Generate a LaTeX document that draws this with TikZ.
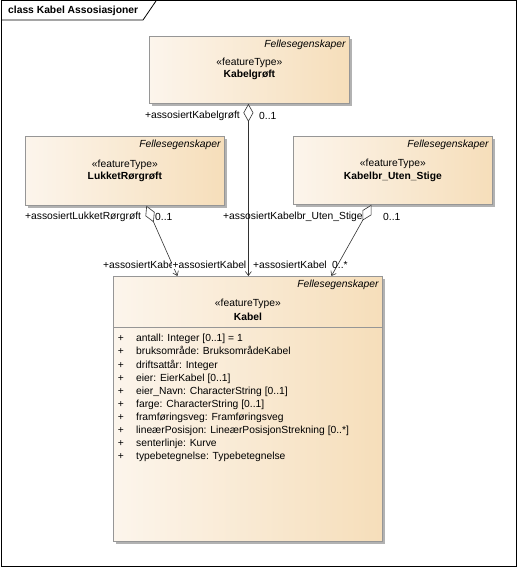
\documentclass[tikz,border=0pt]{standalone}
\usepackage{fontspec}
\setmainfont{Liberation Sans}
\usetikzlibrary{arrows.meta,shadows,calc}
\definecolor{boxL}{RGB}{252,245,236}
\definecolor{boxR}{RGB}{246,222,186}
\definecolor{boxBorder}{RGB}{150,150,150}
\definecolor{shadowGray}{RGB}{178,178,178}
\definecolor{lineCol}{RGB}{50,50,50}
\begin{document}
\begin{tikzpicture}[x=1pt,y=-1pt,
  font=\fontsize{10.3pt}{12pt}\selectfont,
  classbox/.style={draw=boxBorder, line width=0.8pt, left color=boxL, right color=boxR,
    anchor=north west, inner sep=0pt,
    drop shadow={shadow xshift=3pt, shadow yshift=-3pt, fill=shadowGray, opacity=1}},
  lbl/.style={inner sep=0pt, text=black},
  stereo/.style={lbl, anchor=center},
  cname/.style={lbl, anchor=center, font=\fontsize{10.3pt}{12pt}\selectfont\bfseries},
  felles/.style={lbl, anchor=east, font=\fontsize{10.3pt}{12pt}\selectfont\itshape},
  assoc/.style={draw=lineCol, line width=0.6pt,
    arrows={Diamond[fill=white,length=18pt,width=10pt]-Straight Barb[length=4pt,width=6pt]}}
]
\useasboundingbox (0,0) rectangle (518,567);
\fill[white] (0,0) rectangle (518,567);
% frame
\draw[line width=1pt] (1,1) rectangle (516.5,566);
\draw[line width=0.8pt] (1,20) -- (143,20) -- (156,1);
\node[lbl, anchor=west, font=\fontsize{10.3pt}{12pt}\selectfont\bfseries] (title) at (8,11) {class Kabel Assosiasjoner};

% boxes
\node[classbox, minimum width=200pt, minimum height=67pt] (kgrof) at (149,36) {};
\node[classbox, minimum width=199pt, minimum height=69pt] (lrg) at (25,136) {};
\node[classbox, minimum width=199pt, minimum height=68pt] (kbr) at (293,136) {};
\node[classbox, minimum width=269pt, minimum height=265pt] (kabel) at (113,276) {};

% Kabelgrøft
\node[felles] (kgF) at ($(kgrof.north east)+(-4,9)$) {Fellesegenskaper};
\node[stereo] (kgS) at ($(kgrof.north)+(0,27)$) {«featureType»};
\node[cname] (kgN) at ($(kgrof.north)+(0,39)$) {Kabelgrøft};

% LukketRørgrøft
\node[felles] (lrF) at ($(lrg.north east)+(-4,9)$) {Fellesegenskaper};
\node[stereo] (lrS) at ($(lrg.north)+(0,29)$) {«featureType»};
\node[cname] (lrN) at ($(lrg.north)+(0,41)$) {LukketRørgrøft};

% Kabelbr_Uten_Stige
\node[felles] (kbF) at ($(kbr.north east)+(-4,9)$) {Fellesegenskaper};
\node[stereo] (kbS) at ($(kbr.north)+(0,28)$) {«featureType»};
\node[cname] (kbN) at ($(kbr.north)+(0,41)$) {Kabelbr\_Uten\_Stige};

% Kabel
\node[felles] (kaF) at ($(kabel.north east)+(-4,9)$) {Fellesegenskaper};
\node[stereo] (kaS) at ($(kabel.north)+(0,28)$) {«featureType»};
\node[cname] (kaN) at ($(kabel.north)+(0,41)$) {Kabel};
\draw[draw=boxBorder, line width=0.8pt] ($(kabel.north west)+(0,51)$) coordinate (sepL) -- ($(kabel.north east)+(0,51)$) coordinate (sepR);

\foreach \t [count=\i] in {{antall: Integer [0..1] = 1},{bruksområde: BruksområdeKabel},{driftsattår: Integer},{eier: EierKabel [0..1]},{eier\_Navn: CharacterString [0..1]},{farge: CharacterString [0..1]},{framføringsveg: Framføringsveg},{lineærPosisjon: LineærPosisjonStrekning [0..*]},{senterlinje: Kurve},{typebetegnelse: Typebetegnelse}}{
  \node[lbl, anchor=base] (plus\i) at (121,{341.8+13.1*(\i-1)}) {+};
  \node[lbl, anchor=base west] (attr\i) at (136,{341.8+13.1*(\i-1)}) {\t};
}

% connector end points
\coordinate (a1s) at ($(kgrof.south)+(-1,0)$);
\coordinate (a1e) at ($(kabel.north)+(0.5,0)$);
\coordinate (a2s) at ($(lrg.south)+(21.5,0)$);
\coordinate (a2e) at ($(kabel.north)+(-70.5,0)$);
\coordinate (a3s) at ($(kbr.south)+(-21.5,0)$);
\coordinate (a3e) at ($(kabel.north)+(83.5,0)$);

\draw[assoc] (a1s) -- (a1e);
\draw[assoc] (a2s) -- (a2e);
\draw[assoc] (a3s) -- (a3e);

% connector labels
\node[lbl, anchor=east] (l1a) at (240,116) {+assosiertKabelgrøft};
\node[lbl, anchor=west] (l1b) at (259,116) {0..1};
\node[lbl, anchor=west] (l2a) at (25,217) {+assosiertLukketRørgrøft};
\node[lbl, anchor=west] (l2b) at (155,217) {0..1};
\node[lbl, anchor=west] (l3a) at (223,217) {+assosiertKabelbr\_Uten\_Stige};
\node[lbl, anchor=west] (l3b) at (383,217) {0..1};
\node[lbl, anchor=west] (e2) at (103,265) {+assosiertKabe};
\node[lbl, anchor=west, fill=white, inner xsep=0.5pt] (e1) at (172,265) {+assosiertKabel};
\node[lbl, anchor=west] (e3) at (253,265) {+assosiertKabel};
\node[lbl, anchor=west] (e3m) at (332,265) {0..*};
\end{tikzpicture}
\end{document}
